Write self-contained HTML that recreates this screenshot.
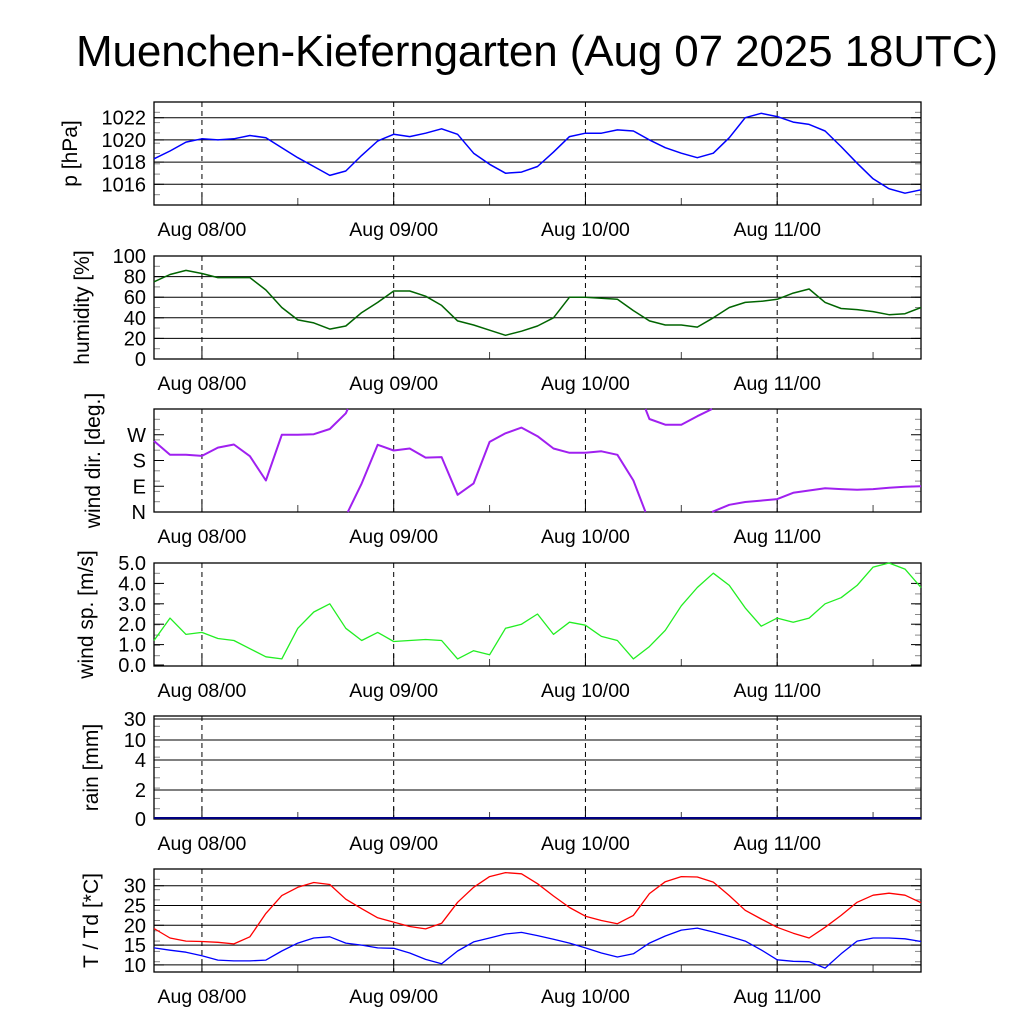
<!DOCTYPE html>
<html><head><meta charset="utf-8"><style>
html,body{margin:0;padding:0;background:#fff;}
svg{display:block;font-family:"Liberation Sans",sans-serif;}
</style></head><body>
<svg id="c" width="1024" height="1024" viewBox="0 0 1024 1024" xmlns="http://www.w3.org/2000/svg">
<text x="537" y="66" font-size="44" text-anchor="middle" textLength="922">Muenchen-Kieferngarten (Aug 07 2025 18UTC)</text>
</svg>
<script>
const hours = [0,2,4,6,8,10,12,14,16,18,20,22,24,26,28,30,32,34,36,38,40,42,44,46,48,50,52,54,56,58,60,62,64,66,68,70,72,74,76,78,80,82,84,86,88,90,92,94,96];
const dayLabels = ["Aug 08/00","Aug 09/00","Aug 10/00","Aug 11/00"];
const dayHours = [6,30,54,78];
const pressure = [1018.3,1019.0,1019.8,1020.1,1020.0,1020.1,1020.4,1020.2,1019.3,1018.4,1017.6,1016.8,1017.2,1018.6,1019.9,1020.5,1020.3,1020.6,1021.0,1020.5,1018.8,1017.8,1017.0,1017.1,1017.6,1018.9,1020.3,1020.6,1020.6,1020.9,1020.8,1020.0,1019.3,1018.8,1018.4,1018.8,1020.2,1022.0,1022.4,1022.1,1021.6,1021.4,1020.8,1019.4,1017.9,1016.5,1015.6,1015.2,1015.5];
const humidity = [75,82,86,83,79,79,79,67,50,38,35,29,32,45,55,66,66,61,52,37,33,28,23,27,32,40,60,60,59,58,47,37,33,33,31,40,50,55,56,58,64,68,55,49,48,46,43,44,50];
const windDir = [248,200,200,196,225,236,195,110,270,270,272,290,345,100,235,215,222,190,192,60,100,245,275,295,265,222,207,207,212,200,110,325,305,305,335,2,25,35,40,45,67,75,83,80,78,80,85,88,90];
const windSpeed = [1.2,2.3,1.5,1.6,1.3,1.2,0.8,0.4,0.3,1.8,2.6,3.0,1.8,1.2,1.6,1.15,1.2,1.25,1.2,0.3,0.7,0.5,1.8,2.0,2.5,1.5,2.1,1.95,1.4,1.2,0.3,0.9,1.7,2.9,3.8,4.5,3.9,2.8,1.9,2.3,2.1,2.3,3.0,3.3,3.9,4.8,5.0,4.7,3.8];
const rain = [0,0,0,0,0,0,0,0,0,0,0,0,0,0,0,0,0,0,0,0,0,0,0,0,0,0,0,0,0,0,0,0,0,0,0,0,0,0,0,0,0,0,0,0,0,0,0,0,0];
const temp = [19.2,16.8,16.0,15.9,15.7,15.3,17.1,23.0,27.5,29.6,30.8,30.3,26.6,24.2,21.9,20.8,19.7,19.1,20.5,25.8,29.6,32.3,33.3,33.0,30.5,27.4,24.5,22.3,21.2,20.4,22.5,28.0,31.0,32.3,32.2,30.9,27.5,23.8,21.6,19.5,18.0,16.8,19.5,22.5,25.8,27.6,28.1,27.6,25.7];
const dewpoint = [14.3,13.7,13.2,12.3,11.2,11.0,11.0,11.2,13.5,15.5,16.8,17.1,15.5,15.0,14.3,14.2,13.0,11.4,10.3,13.5,15.8,16.8,17.8,18.2,17.4,16.5,15.5,14.3,13.0,12.0,12.8,15.5,17.3,18.8,19.3,18.3,17.2,16.0,13.8,11.3,10.9,10.8,9.2,12.8,16.0,16.8,16.8,16.6,15.9];
const pTicks = [1016,1018,1020,1022];
const hTicks = [0,20,40,60,80,100];
const wdTicks = ["N","E","S","W"];
const wsTicks = ["0.0","1.0","2.0","3.0","4.0","5.0"];
const rainTicks = ["0","2","4","10","30"];
const tTicks = [10,15,20,25,30];

const NS="http://www.w3.org/2000/svg";
const svg=document.getElementById('c');
const X0=154,X1=921,H=103;
const xs=h=>X0+(X1-X0)*h/96;
function mk(tag,at,parent){const e=document.createElementNS(NS,tag);for(const k in at)e.setAttribute(k,at[k]);(parent||svg).appendChild(e);return e;}

function panel(top,name,title,titleX){
  const g=mk('g',{});
  
  
  const bot=top+H;
  for(let i=0;i<dayHours.length;i++){
    const x=xs(dayHours[i]);
    const dl=mk('line',{x1:x,y1:top,x2:x,y2:bot,stroke:'#000','stroke-width':1,'stroke-dasharray':'5,4'},g);
    
    
    mk('line',{x1:x,y1:bot,x2:x,y2:bot-12,stroke:'#000','stroke-width':1},g);
    const mx=xs(dayHours[i]+12);
    if(dayHours[i]+12<96) mk('line',{x1:mx,y1:bot,x2:mx,y2:bot-7,stroke:'#444','stroke-width':1},g);
    const t=mk('text',{x:x,y:bot+31,'font-size':19.5,'text-anchor':'middle'},g);
    t.textContent=dayLabels[i];
    
    
  }
  for(let k=1;k<10;k++){const y=top+H*k/10;
    mk('line',{x1:X0,y1:y,x2:X0+6,y2:y,stroke:'#888','stroke-width':1},g);
    mk('line',{x1:X1-6,y1:y,x2:X1,y2:y,stroke:'#888','stroke-width':1},g);}
  const fr=mk('rect',{x:X0,y:top,width:X1-X0,height:H,fill:'none',stroke:'#000','stroke-width':1.3},g);
  
  
  const ty=top+H/2;
  const tt=mk('text',{x:titleX,y:ty,'font-size':21,'text-anchor':'middle',transform:`rotate(-90 ${titleX} ${ty})`},g);
  tt.textContent=title;
  
  
  return g;
}
function ytick(g,y,label,grid,top){
  if(grid && y>top+1 && y<top+H-1) mk('line',{x1:X0,y1:y,x2:X1,y2:y,stroke:'#000','stroke-width':1},g);
  mk('line',{x1:X0,y1:y,x2:X0+10,y2:y,stroke:'#000','stroke-width':1},g);
  mk('line',{x1:X1-10,y1:y,x2:X1,y2:y,stroke:'#000','stroke-width':1},g);
  const t=mk('text',{x:146,y:y+7,'font-size':20,'text-anchor':'end'},g);
  t.textContent=label;
  
  
}
function line(g,vals,ys,color,name,w){
  let d='';
  vals.forEach((v,i)=>{d+=(i===0?'M':'L')+xs(hours[i]).toFixed(1)+' '+ys(v).toFixed(1)+' ';});
  const p=mk('path',{d:d,fill:'none',stroke:color,'stroke-width':w||1.3,'stroke-linejoin':'round'},g);
  
  
}
function wrapLine(g,vals,ys,color,name,w){
  let d='';
  vals.forEach((v,i)=>{
    const x=xs(hours[i]),y=ys(v);
    if(i===0){d+='M'+x.toFixed(1)+' '+y.toFixed(1)+' ';return;}
    const p=vals[i-1];
    if(Math.abs(v-p)>200){
      const px=xs(hours[i-1]);
      const up=p>v; // crosses 360 going up
      const dist=up?(360-p)+v:p+(360-v);
      const f=up?(360-p)/dist:p/dist;
      const cx=px+(x-px)*f;
      d+='L'+cx.toFixed(1)+' '+ys(up?360:0).toFixed(1)+' M'+cx.toFixed(1)+' '+ys(up?0:360).toFixed(1)+' ';
    }
    d+='L'+x.toFixed(1)+' '+y.toFixed(1)+' ';
  });
  const p=mk('path',{d:d,fill:'none',stroke:color,'stroke-width':w,'stroke-linejoin':'round'},g);
  
  
}
// pressure
{const top=102;const g=panel(top,'pressure','p [hPa]',77);
 const ys=v=>117.7-(v-1022)*11.1;
 pTicks.forEach(v=>ytick(g,ys(v),String(v),true,top));
 line(g,pressure,ys,'#0000ff','pressure-line',1.5);}
// humidity
{const top=256;const g=panel(top,'humidity','humidity [%]',89);
 const ys=v=>359-v*1.03;
 hTicks.forEach(v=>ytick(g,ys(v),String(v),true,top));
 line(g,humidity,ys,'#006400','humidity-line',1.5);}
// wind dir
{const top=409;const g=panel(top,'wind-direction','wind dir. [deg.]',100);
 const ys=v=>512-v*103/360;
 wdTicks.forEach((l,i)=>ytick(g,ys(i*90),l,false,top));
 wrapLine(g,windDir,ys,'#a020f0','wind-direction-line',2);}
// wind speed
{const top=563;const g=panel(top,'wind-speed','wind sp. [m/s]',93);
 const ys=v=>665-v*20.4;
 wsTicks.forEach(l=>ytick(g,ys(parseFloat(l)),l,false,top));
 line(g,windSpeed,ys,'#22ee22','wind-speed-line',1.3);}
// rain
{const top=716;const g=panel(top,'rain','rain [mm]',98);
 const rainY=[819,790,760,740,719];
 rainTicks.forEach((l,i)=>ytick(g,rainY[i],l,true,top));
 const ys=v=>818-v*14.5;
 line(g,rain,ys,'#000080','rain-line',2);}
// temperature
{const top=869;const g=panel(top,'temperature','T / Td [*C]',98);
 const ys=v=>885.7-(v-30)*3.96;
 tTicks.forEach(v=>ytick(g,ys(v),String(v),true,top));
 line(g,temp,ys,'#ff0000','temperature-line',1.3);
 line(g,dewpoint,ys,'#0000ff','dewpoint-line',1.3);}
</script>
</body></html>
